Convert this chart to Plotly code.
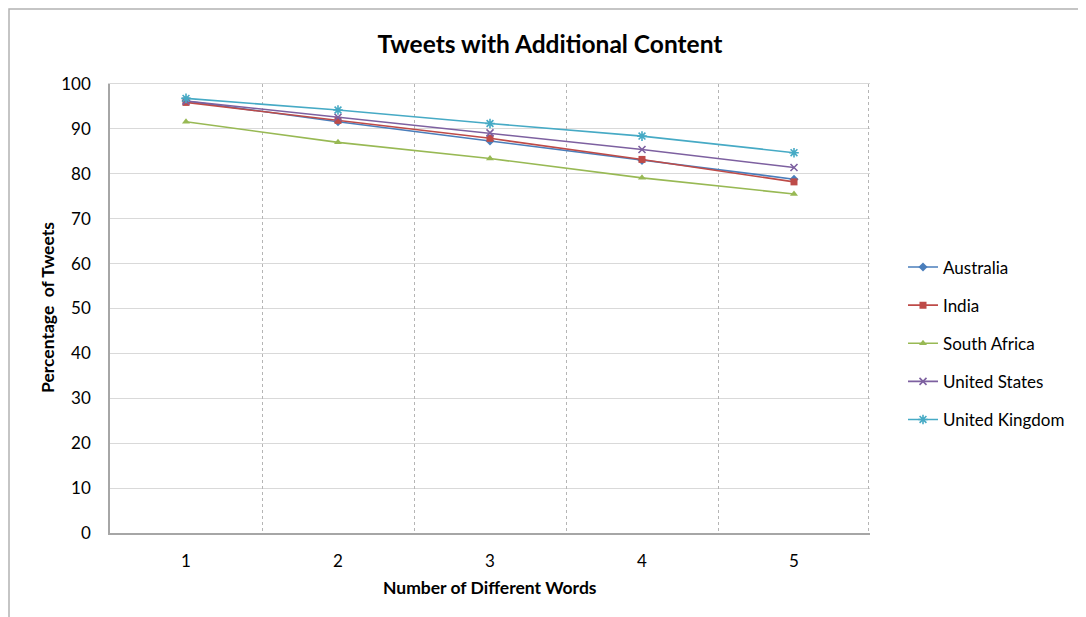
import plotly.graph_objects as go

categories = [1, 2, 3, 4, 5]
australia = [96.2, 91.6, 87.3, 83.0, 78.8]
india = [95.9, 91.9, 87.9, 83.2, 78.2]
south_africa = [91.6, 87.0, 83.4, 79.1, 75.5]
united_states = [96.2, 92.6, 89.1, 85.4, 81.4]
united_kingdom = [96.8, 94.2, 91.2, 88.4, 84.7]

y_ticks = list(range(0, 101, 10))
grid_positions = [1.5, 2.5, 3.5, 4.5, 5.49]

FONT = "Lato"

series = [
    ("Australia", australia, "#4a7ebb", dict(symbol="diamond", size=7)),
    ("India", india, "#be4b48", dict(symbol="square", size=7)),
    ("South Africa", south_africa, "#98b954", dict(symbol="triangle-up", size=7)),
    ("United States", united_states, "#7d60a0", dict(symbol="x-thin-open", size=7, line=dict(width=1.6, color="#7d60a0"))),
    ("United Kingdom", united_kingdom, "#46aac5", dict(symbol="asterisk-open", size=8, line=dict(width=1.6, color="#46aac5"))),
]

fig = go.Figure()
for name, vals, color, mk in series:
    fig.add_trace(go.Scatter(
        x=categories, y=vals, name=name, mode="lines+markers",
        line=dict(color=color, width=1.6),
        marker=dict(color=color, **mk),
        legendgroup=name,
    ))

# invisible traces on overlay axes (dotted category-boundary grid, top border line)
fig.add_trace(go.Scatter(x=[grid_positions[0]], y=[None], xaxis="x2", showlegend=False, hoverinfo="skip"))
fig.add_trace(go.Scatter(x=[grid_positions[0]], y=[None], xaxis="x3", showlegend=False, hoverinfo="skip"))

OFF = 8  # page body margin
W, H = 1078, 609
L, R, T, B = 110 - OFF, 216, 84 - OFF, 84
pw, ph = W - L - R, H - T - B

def px(xp):
    return (xp - OFF - L) / pw

def py(yp):
    return (OFF + H - B - yp) / ph

fig.update_layout(
    width=W, height=H,
    margin=dict(l=L, r=R, t=T, b=B),
    paper_bgcolor="white", plot_bgcolor="white",
    font=dict(family=FONT, color="#000000", size=17),
    title=dict(text="<b>Tweets with Additional Content</b>", x=px(550), xref="paper",
               xanchor="center", y=1 - (44 - OFF) / H, yanchor="middle",
               font=dict(family=FONT, size=24.5, color="#000000")),
    xaxis=dict(range=[0.5, 5.5], tickvals=categories, ticktext=[str(c) for c in categories],
               showgrid=False, zeroline=False, showline=True, linecolor="#a6a6a6", linewidth=1.5,
               ticks="", ticklabelstandoff=12, tickfont=dict(size=17)),
    xaxis2=dict(range=[0.5, 5.5], overlaying="x", tickvals=grid_positions, showticklabels=False,
                showgrid=True, gridcolor="#b5b5b5", griddash="dot", gridwidth=1, zeroline=False,
                showline=False, ticks=""),
    xaxis3=dict(range=[0.5, 5.5], overlaying="x", side="top", showticklabels=False,
                showgrid=False, zeroline=False, showline=True, linecolor="#d9d9d9", linewidth=1.3,
                ticks=""),
    yaxis=dict(range=[0, 100], tickvals=y_ticks, showgrid=True, gridcolor="#d9d9d9", gridwidth=1.3,
               zeroline=False, showline=True, linecolor="#a6a6a6", linewidth=1.5, ticks="",
               ticklabelstandoff=14, tickfont=dict(size=17)),
    legend=dict(x=px(903), y=py(343.5), xanchor="left", yanchor="middle",
                font=dict(size=17), tracegroupgap=13, itemwidth=30, bgcolor="rgba(0,0,0,0)"),
    showlegend=True,
)

fig.add_annotation(text="<b>Number of Different Words</b>", xref="paper", yref="paper",
                   x=px(490), y=py(587), xanchor="center", yanchor="middle", showarrow=False,
                   font=dict(family=FONT, size=17.5))
fig.add_annotation(text="<b>Percentage  of Tweets</b>", xref="paper", yref="paper",
                   x=px(47), y=py(308), xanchor="center", yanchor="middle", showarrow=False,
                   textangle=-90, font=dict(family=FONT, size=17.5))

fig.add_shape(type="rect", xref="paper", yref="paper",
              x0=px(9), x1=px(1100), y0=py(630), y1=py(9),
              line=dict(color="#b3b3b3", width=1.5), fillcolor="rgba(0,0,0,0)", layer="below")

fig.write_html("out.html")
